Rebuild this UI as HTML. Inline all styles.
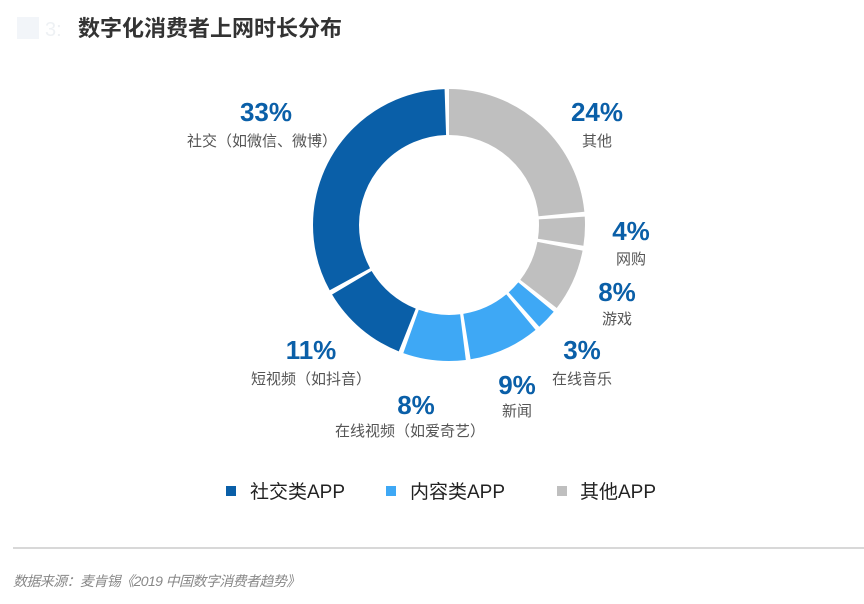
<!DOCTYPE html>
<html><head><meta charset="utf-8"><style>
body{margin:0;width:864px;height:604px;background:#fff;overflow:hidden;font-family:"Liberation Sans","Noto Sans CJK SC",sans-serif;}
</style></head><body>
<svg width="864" height="604" xmlns="http://www.w3.org/2000/svg" style="position:absolute;left:0;top:0">
<g font-family="Liberation Sans, Noto Sans CJK SC, sans-serif">
<rect x="17" y="17" width="22" height="22" fill="#f2f5f9"/>
<text x="45" y="36" font-size="20" fill="#eef1f4">3:</text>
<text x="78" y="36" font-size="22" fill="#333" font-weight="bold">数字化消费者上网时长分布</text>
<g transform="translate(449,225) rotate(-90)" fill="none" stroke-width="46">
<circle r="113" stroke="#bfbfbf" stroke-dasharray="166.4 544" stroke-dashoffset="0"/>
<circle r="113" stroke="#bfbfbf" stroke-dasharray="24.4 700" stroke-dashoffset="-170.4"/>
<circle r="113" stroke="#bfbfbf" stroke-dasharray="52.8 700" stroke-dashoffset="-198.8"/>
<circle r="113" stroke="#3ea8f5" stroke-dasharray="17.3 700" stroke-dashoffset="-255.6"/>
<circle r="113" stroke="#3ea8f5" stroke-dasharray="59.9 700" stroke-dashoffset="-276.9"/>
<circle r="113" stroke="#3ea8f5" stroke-dasharray="52.8 700" stroke-dashoffset="-340.8"/>
<circle r="113" stroke="#0a5fa8" stroke-dasharray="74.1 700" stroke-dashoffset="-397.6"/>
<circle r="113" stroke="#0a5fa8" stroke-dasharray="230.3 700" stroke-dashoffset="-475.7"/>
</g>
<g font-weight="bold" font-size="26" fill="#0a5fa8" text-anchor="middle">
<text x="266" y="121">33%</text>
<text x="597" y="121">24%</text>
<text x="631" y="240">4%</text>
<text x="617" y="301">8%</text>
<text x="582" y="359">3%</text>
<text x="517" y="394">9%</text>
<text x="416" y="414">8%</text>
<text x="311" y="359">11%</text>
</g>
<g font-size="15" fill="#555" text-anchor="middle">
<text x="262" y="146">社交（如微信、微博）</text>
<text x="597" y="146">其他</text>
<text x="631" y="264">网购</text>
<text x="617" y="324">游戏</text>
<text x="582" y="384">在线音乐</text>
<text x="517" y="416">新闻</text>
<text x="410" y="436">在线视频（如爱奇艺）</text>
<text x="311" y="384">短视频（如抖音）</text>
</g>
<rect x="226" y="486" width="10" height="10" fill="#0a5fa8"/>
<rect x="386" y="486" width="10" height="10" fill="#3ea8f5"/>
<rect x="557" y="486" width="10" height="10" fill="#bfbfbf"/>
<g font-size="19" fill="#222">
<text x="250" y="498">社交类APP</text>
<text x="410" y="498">内容类APP</text>
<text x="580" y="498">其他APP</text>
</g>
<line x1="13" y1="548" x2="864" y2="548" stroke="#ccc" stroke-width="1.5"/>
<text x="13" y="586" font-size="14" fill="#888" font-style="italic" letter-spacing="-0.6">数据来源：麦肯锡《2019 中国数字消费者趋势》</text>
</g>
</svg>
</body></html>
